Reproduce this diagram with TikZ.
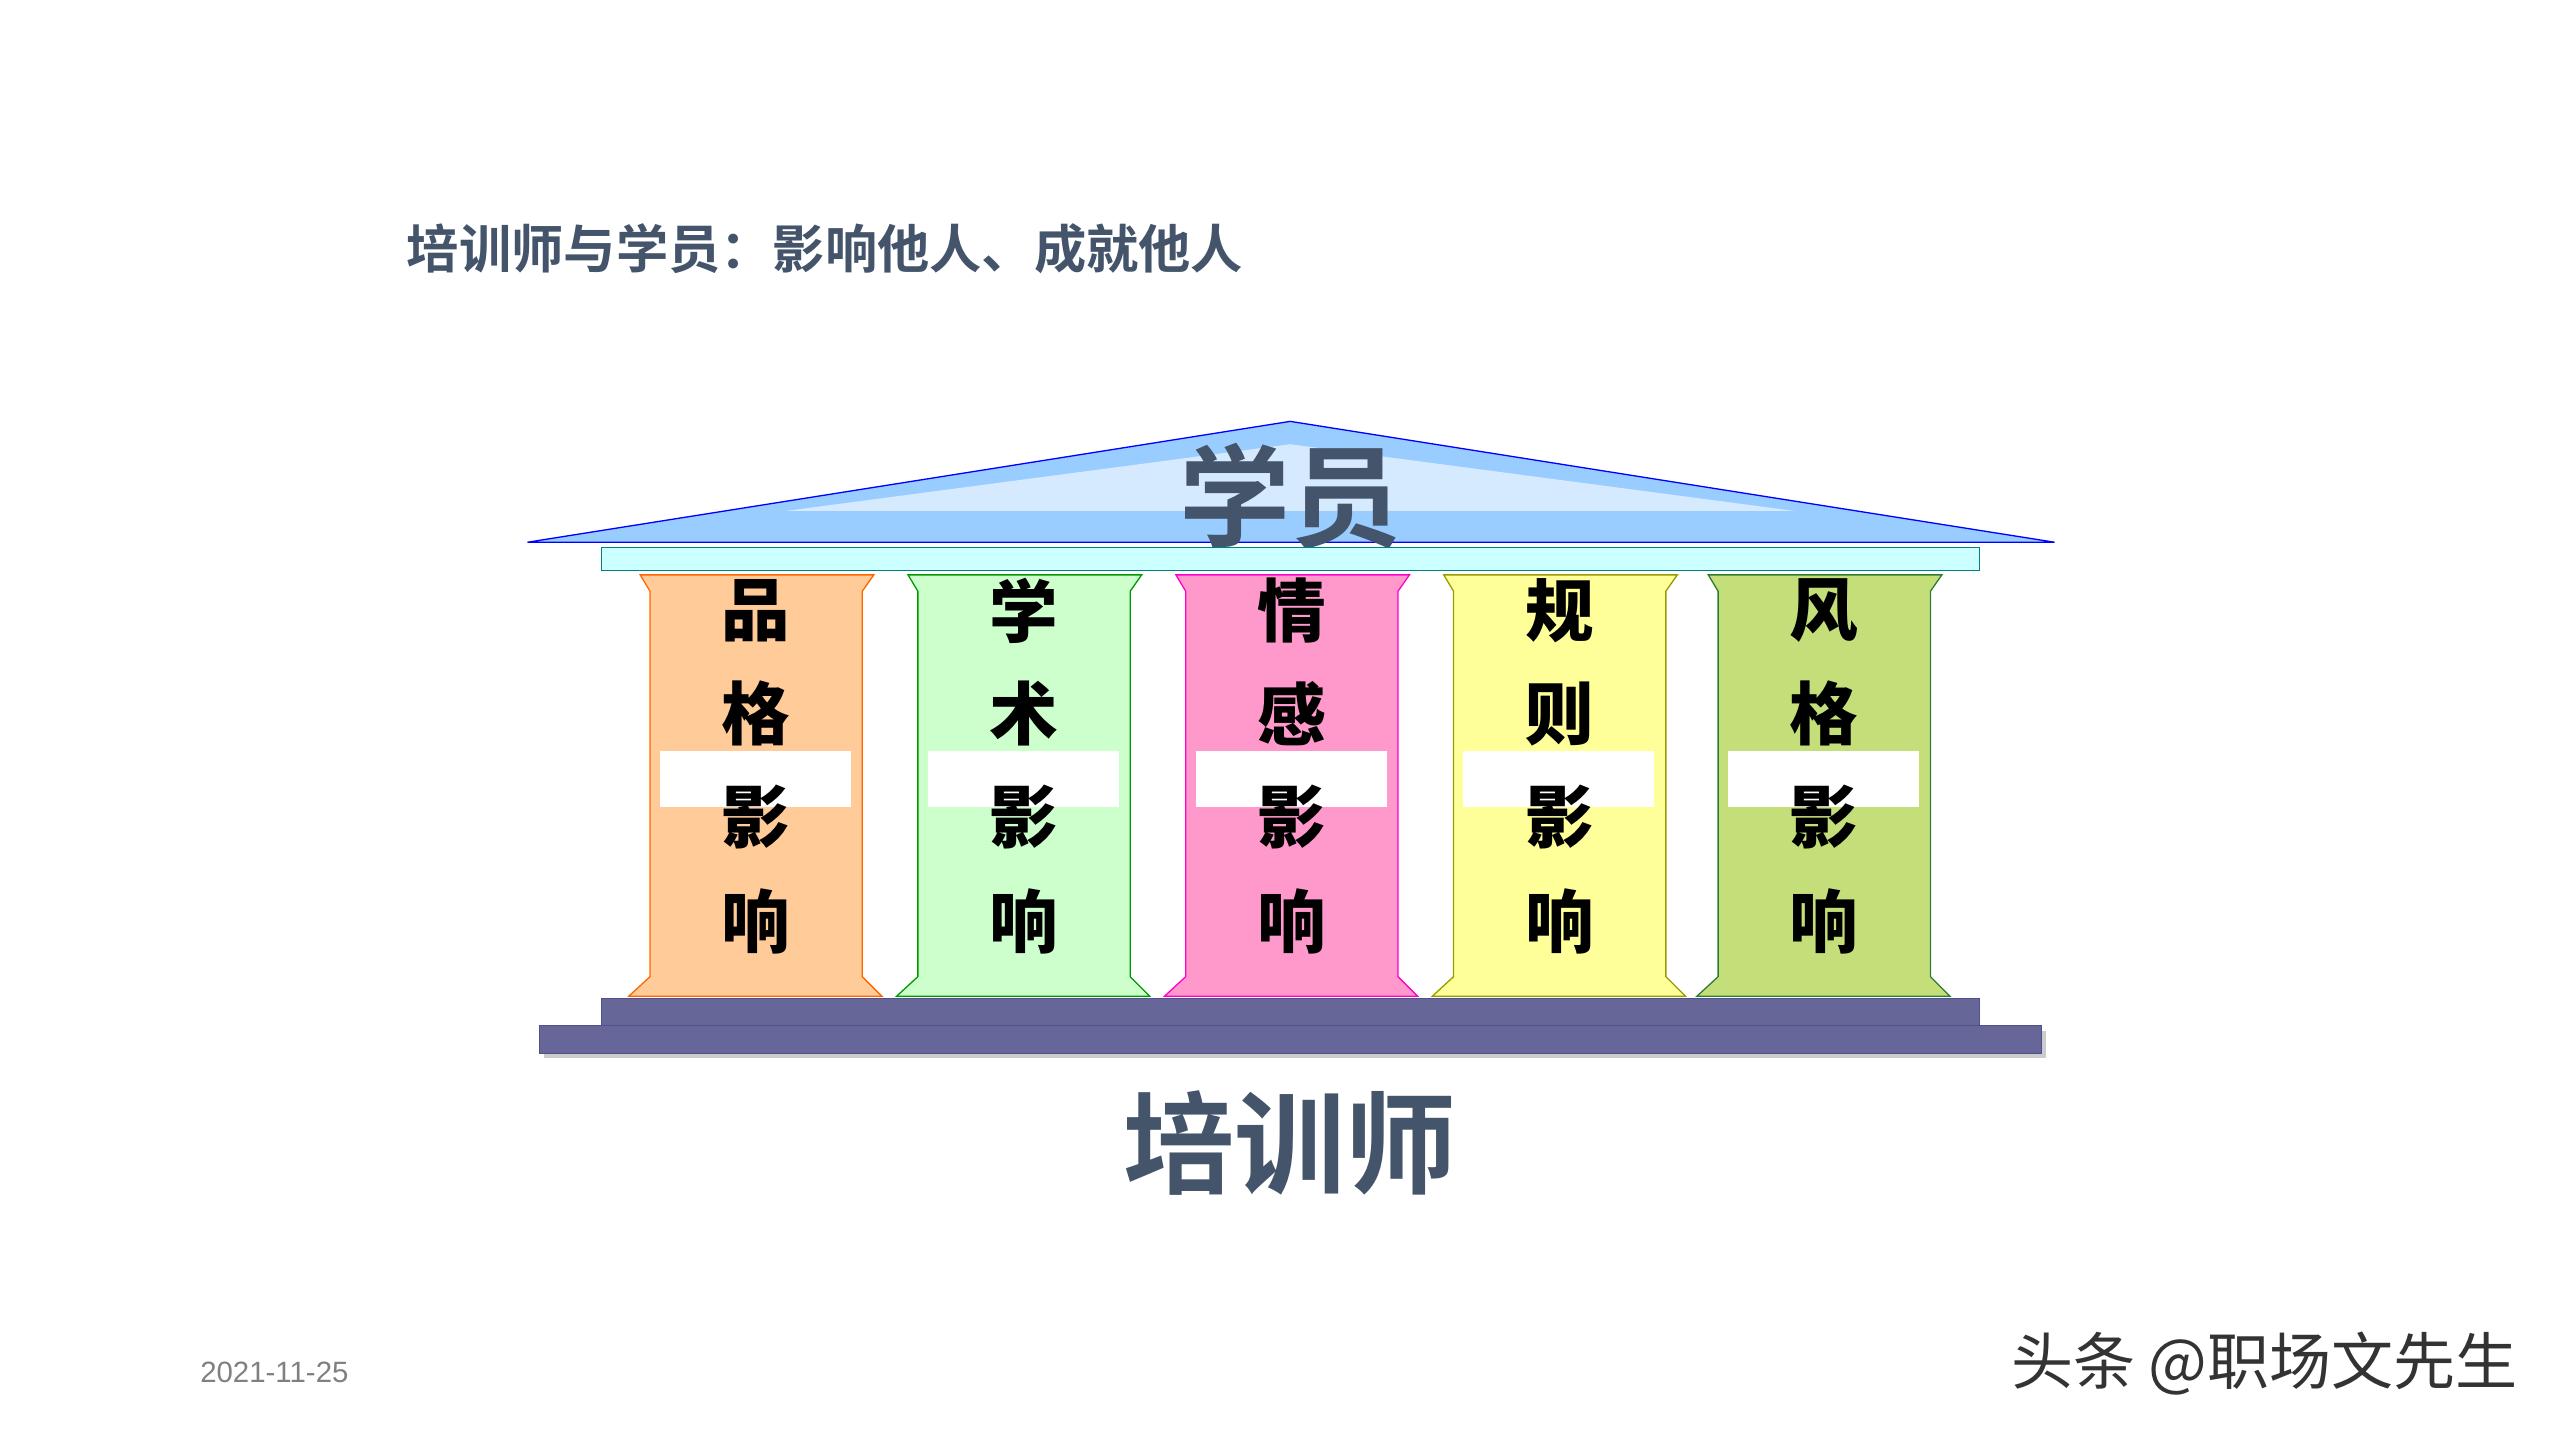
\documentclass[tikz,border=0pt]{standalone}
\usepackage{fontspec}
\newfontfamily\cjk{Noto Sans CJK SC Bold}
\newfontfamily\cjkb{Noto Sans CJK SC Black}
\newfontfamily\cjkr{Noto Sans CJK SC}
\newfontfamily\lsans{Liberation Sans}
\definecolor{slate}{HTML}{44546A}
\definecolor{roofc}{HTML}{99CCFF}
\definecolor{archc}{HTML}{CCFFFF}
\definecolor{basec}{HTML}{666699}
\definecolor{based}{HTML}{50508C}
\definecolor{f1}{HTML}{FFCC99}\definecolor{d1}{HTML}{FF6600}
\definecolor{f2}{HTML}{CCFFCC}\definecolor{d2}{HTML}{009900}
\definecolor{f3}{HTML}{FF99CC}\definecolor{d3}{HTML}{FF00CC}
\definecolor{f4}{HTML}{FFFF99}\definecolor{d4}{HTML}{999900}
\definecolor{f5}{HTML}{C4DF7A}\definecolor{d5}{HTML}{2E7D32}
\begin{document}
\begin{tikzpicture}[x=1pt,y=-1pt,
  col/.style={line width=0.8pt},
  ch/.style={font=\cjkb\fontsize{42}{42}\selectfont,text=black},
  big/.style={font=\cjk\fontsize{68}{68}\selectfont,text=slate}]
\useasboundingbox (0,0) rectangle (1567.5,881.7);
\node[anchor=west,inner sep=0pt,font=\cjk\fontsize{32}{32}\selectfont,text=slate] (title) at (249,152) {培训师与学员：影响他人、成就他人};
% roof
\draw[blue,fill=roofc,line width=0.8pt] (323,332) -- (790,258) -- (1258,332) -- cycle;
\fill[white,opacity=0.6] (480,313) -- (790,272) -- (1100,313) -- cycle;
\fill[roofc] (470,313) rectangle (1110,331);
\node[big] (stu) at (790,304) {学员};
\draw[teal,fill=archc] (368,335) rectangle (1212,349);
% columns
\foreach \cx/\a/\b [count=\i] in {463/品/格, 627/学/术, 791/情/感, 955/规/则, 1117/风/格}{
  \draw[col,draw=d\i,fill=f\i] (\cx-71,352) -- (\cx+72,352) -- (\cx+65,362) -- (\cx+65,598) -- (\cx+77,610) -- (\cx-78,610) -- (\cx-65,598) -- (\cx-65,362) -- cycle;
  \fill[white] (\cx-59,460) rectangle (\cx+58,494);
  \node[ch] (c\i a) at (\cx,374) {\a};
  \node[ch] (c\i b) at (\cx,437) {\b};
  \node[ch] (c\i c) at (\cx,500) {影};
  \node[ch] (c\i d) at (\cx,564) {响};
}
% base
\fill[gray!40] (333,631) rectangle (1253,648);
\draw[based,fill=basec] (368,611) rectangle (1212,628);
\draw[based,fill=basec] (330,628) rectangle (1250,645);
\node[big] (tr) at (790,700) {培训师};
\node[font=\lsans\fontsize{18}{18}\selectfont,text=gray] (date) at (168,840) {2021-11-25};
\node[font=\cjkr\fontsize{38}{38}\selectfont,text=black!80,anchor=east,inner sep=0pt] (wm) at (1542,835) {头条 @职场文先生};
\end{tikzpicture}
\end{document}
